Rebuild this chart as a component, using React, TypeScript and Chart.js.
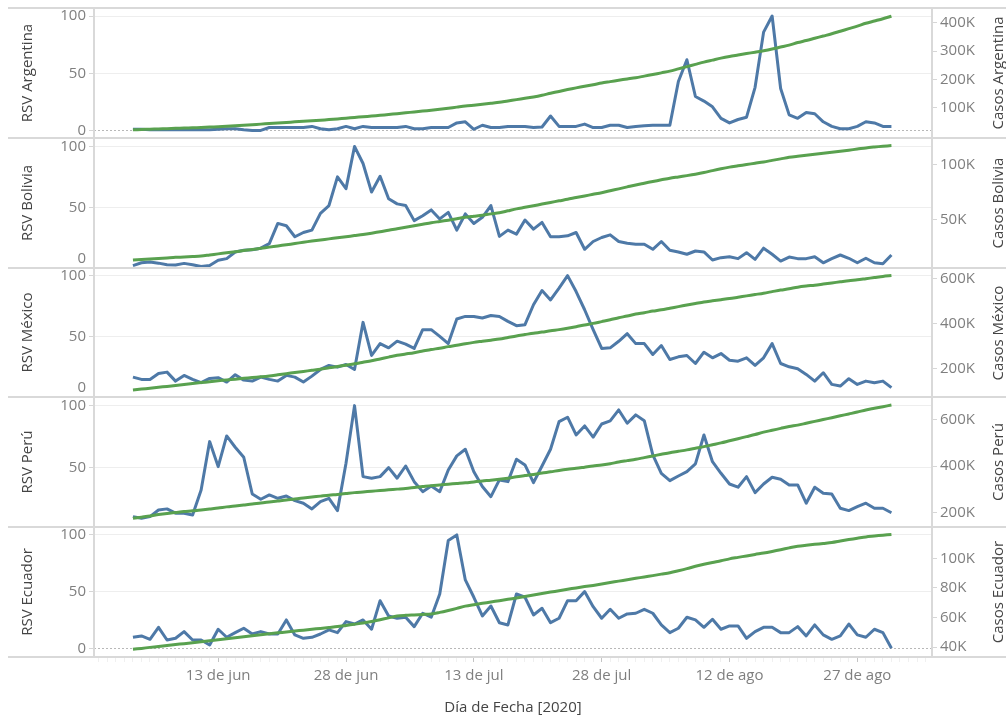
import React, { useEffect, useRef } from 'react';
import { Chart, registerables } from 'chart.js';

Chart.register(...registerables);

// Day offsets counted from 1 June 2020 (3 Jun .. 31 Aug 2020)
const days = Array.from({ length: 90 }, (_, i) => i + 2);

const xTickDays = [12, 27, 42, 57, 72, 87];
const xTickLabels = ['13 de jun', '28 de jun', '13 de jul', '28 de jul', '12 de ago', '27 de ago'];
const xMinorDays = Array.from({ length: 98 }, (_, i) => i - 2);
const rsvTicks = [0, 50, 100];

const countries = ['Argentina', 'Bolivia', 'México', 'Perú', 'Ecuador'];

const rsvArgentina = [
  1.5, 1.5, 1, 1, 1, 1, 1, 1, 1, 1,
  1.5, 2, 2, 1, 0.5, 0.5, 3, 3, 3, 3,
  3, 4, 2, 1, 2, 4, 2, 4, 3, 3,
  3, 3, 4, 2, 2, 3, 3, 3, 7, 8,
  1.5, 5, 3, 3, 4, 4, 4, 3, 3.5, 13,
  4, 4, 4, 6, 3, 3, 5, 5, 3, 4,
  4.5, 5, 5, 5, 43, 62, 30, 26, 21, 11,
  7, 10, 12, 38, 86, 100, 37, 14, 11, 16,
  15, 8, 4, 2, 2, 4, 8, 7, 4, 4,
];
const casosArgentina = [
  22, 23, 24, 25, 26, 27, 28, 29, 30, 31.5,
  33, 34.5, 36, 38, 40, 42, 44, 46, 48, 50,
  52, 54, 56, 58, 60.5, 63, 65.5, 68, 70.5, 73,
  76, 79, 82, 85, 88, 91, 94.5, 98, 102, 106,
  109, 112, 115.5, 119, 124, 128.5, 133, 138, 144, 151,
  157.5, 164, 170, 175.5, 181, 187, 192, 197, 201.5, 206,
  211.5, 217, 223, 229, 237, 245, 253, 261, 268, 275,
  281, 286, 291, 296, 301, 307, 314, 321, 330, 337,
  345, 353, 361, 370, 379, 388, 398, 406, 414, 423,
];

const rsvBolivia = [
  2, 4.3, 4.9, 4, 2.7, 2.5, 3.8, 2.7, 1.3, 2,
  6.3, 7.7, 13.2, 14.6, 15.1, 16.3, 20, 36.7, 34.8, 25.7,
  29.2, 31.2, 45, 51.4, 75, 65.3, 100, 86, 62.5, 75.5,
  57, 52.8, 51.4, 39, 43, 47.8, 40.4, 45.8, 31.2, 44.5,
  36.7, 41.7, 51.4, 26, 31.2, 27.9, 39.5, 32, 37.5, 25.7,
  25.7, 26.5, 29.2, 15.4, 21.8, 25.1, 27.3, 21.8, 20.4, 19.6,
  19.6, 15.4, 21.8, 14.6, 13.2, 11.3, 14, 13.2, 6.6, 8.5,
  9.3, 7.7, 12.6, 7.1, 16.3, 11.3, 5.7, 9, 7.7, 7.7,
  9.3, 4.3, 7.7, 10.7, 8, 4.3, 8, 4.3, 3.5, 10.7,
];
const casosBolivia = [
  12.5, 13, 13.5, 14, 14.5, 15, 15.3, 15.7, 16.2, 17.2,
  18.2, 19.2, 20.2, 21.2, 22.2, 23.3, 24.4, 25.5, 26.6, 27.7,
  28.9, 30, 31, 32, 33, 34, 35, 36, 37.2, 38.5,
  40, 41.3, 42.6, 44, 45.4, 46.8, 48, 49.2, 50.5, 51.8,
  52.8, 53.8, 55, 56, 57.8, 59.6, 61, 62.5, 64, 65.5,
  67, 68.4, 70, 71.5, 73, 74.5, 76.3, 78, 79.8, 81.6,
  83.2, 84.8, 86.3, 87.8, 89, 90.2, 91.5, 93, 94.8, 96.5,
  98, 99.2, 100.4, 101.6, 102.8, 104.2, 105.6, 107, 108, 108.9,
  109.8, 110.7, 111.6, 112.6, 113.6, 114.6, 115.7, 116.5, 117.2, 117.8,
];

const rsvMexico = [
  16.4, 14.5, 14.5, 19.4, 20.5, 13.1, 17.8, 14.5, 11.8, 15.3,
  15.9, 12.3, 18.4, 13.9, 13.1, 16.4, 14.5, 13.1, 17.8, 16.4,
  12.3, 17.2, 22.7, 26, 24.6, 26.8, 22.7, 61.5, 34.2, 44,
  40.5, 46, 43.5, 40, 55.5, 55.5, 50, 44, 64.3, 66.4,
  66.4, 65.1, 67.2, 66.4, 62.3, 58.8, 59.6, 76, 87.7, 80,
  89.7, 100, 86.9, 71.9, 55.5, 40, 40.5, 45.9, 52.2, 44,
  44, 35, 42.4, 30.9, 33.1, 34.2, 27.6, 36.9, 32.3, 35.8,
  30.3, 29.5, 32.3, 26, 32.3, 44, 27.6, 24.9, 23.3, 18.6,
  13.1, 20, 10.4, 9, 15.1, 10.4, 13.1, 11.8, 13.1, 7.7,
];
const casosMexico = [
  103, 107, 111, 115, 119, 123, 127.5, 132, 136, 140,
  144, 148, 151.5, 155, 158.5, 162, 166, 171, 176, 181,
  186, 191, 196, 202, 208, 214, 220, 227, 234, 242,
  250, 258, 264, 270, 277, 284, 290, 297, 303, 310,
  316, 321, 326, 331, 338, 345, 351, 357, 362, 368,
  373, 379, 386, 394, 401, 409, 417, 426, 434, 443,
  449, 456, 462, 469, 476, 483, 490, 497, 502, 507,
  512, 518, 524, 530, 536, 543, 550, 556, 563, 568,
  572, 577, 582, 587, 592, 596, 601, 606, 611, 615,
];

const rsvPeru = [
  9.9, 8.6, 9.9, 15.3, 16.2, 12.7, 12.7, 11.3, 31.6, 70.8,
  50.5, 75.4, 66.2, 58.1, 28.3, 24, 27.5, 24.8, 26.7, 22.9,
  20.8, 16.2, 22.1, 24.8, 14.8, 53.2, 100, 42.4, 41.1, 42.4,
  49.7, 41.1, 51, 38.3, 30.2, 34.8, 30.2, 47.8, 59.2, 64.6,
  46.4, 34.3, 26.1, 39.7, 38.3, 56.5, 51.9, 37.5, 51, 64.6,
  87, 90.6, 76.2, 83.5, 74.4, 85.1, 87.6, 96.5, 85.7, 92.5,
  87.8, 60, 45.1, 39.1, 42.9, 46.4, 52.7, 76.2, 54.5, 45.1,
  36.4, 33.8, 42.4, 29.4, 36.4, 41.9, 40.3, 35.6, 35.6, 20.8,
  33.8, 28.9, 28.3, 16.7, 14.8, 18, 20.8, 16.7, 16.7, 13.1,
];
const casosPeru = [
  176, 181, 186, 192, 197, 201, 205, 208, 212, 216,
  220, 225, 229, 233, 237, 242, 246, 250, 254, 259,
  263, 267, 271, 275, 278, 282, 286, 289, 292, 295,
  298, 301, 304, 308, 312, 316, 319, 322, 325, 328,
  332, 336, 339, 343, 348, 354, 359, 364, 370, 375,
  381, 386, 390, 395, 400, 404, 410, 417, 423, 429,
  436, 443, 450, 457, 463, 469, 476, 483, 491, 499,
  508, 517, 526, 535, 545, 553, 561, 569, 575, 583,
  591, 599, 607, 615, 623, 631, 640, 647, 654, 661,
];

const rsvEcuador = [
  9.7, 10.9, 7.9, 18.5, 7.3, 8.8, 14.7, 7.3, 7.3, 2.9,
  16.8, 9.7, 13.8, 17.7, 12.6, 14.7, 12.6, 12.6, 25, 11.8,
  8.8, 9.7, 12.6, 16.2, 13.8, 23.5, 21.4, 25, 16.8, 42,
  28.5, 26.5, 27.4, 19.1, 30.9, 27.4, 47.9, 95, 100, 60.3,
  45, 28.5, 37.3, 22.5, 20.6, 47.9, 45, 29.4, 35.3, 22.6,
  26.5, 42, 42, 50, 36.7, 26.5, 34.4, 26.5, 30.3, 30.9,
  34.4, 30.9, 20.6, 13.8, 17.7, 27.4, 25, 18.5, 25.6, 16.8,
  19.7, 19.7, 8.8, 14.7, 18.5, 18.5, 13.8, 13.8, 19.1, 10.9,
  20.6, 11.8, 7.9, 10.9, 21.4, 11.8, 9.7, 16.8, 13.8, 0,
];
const casosEcuador = [
  38.6, 39.2, 39.9, 40.5, 41.2, 41.8, 42.4, 43, 43.7, 44.4,
  45, 45.7, 46.4, 47.1, 47.8, 48.4, 49.1, 49.7, 50.3, 50.9,
  51.5, 52.1, 52.7, 53.3, 53.9, 54.7, 55.5, 56.3, 57.3, 58.5,
  59.8, 61, 61.5, 61.8, 62.1, 62.4, 63.5, 64.8, 66.2, 67.7,
  68.7, 69.6, 70.5, 71.4, 72.3, 73.2, 74.2, 75.2, 76.2, 77.2,
  78.1, 79.1, 80, 80.9, 81.7, 82.6, 83.6, 84.6, 85.5, 86.5,
  87.4, 88.3, 89.3, 90.3, 91.6, 93, 94.6, 96, 97.2, 98.3,
  99.6, 100.6, 101.6, 102.6, 103.5, 104.6, 105.8, 107, 108.1, 108.8,
  109.4, 110, 110.6, 111.6, 112.6, 113.5, 114.4, 115, 115.6, 116.1,
];

// right-axis tick values, in thousands of cases
const casosTicksArgentina = [100, 200, 300, 400];
const casosTicksBolivia = [50, 100];
const casosTicksMexico = [200, 400, 600];
const casosTicksPeru = [200, 400, 600];
const casosTicksEcuador = [40, 60, 80, 100];

const rsvSeries = [rsvArgentina, rsvBolivia, rsvMexico, rsvPeru, rsvEcuador];
const casosSeries = [casosArgentina, casosBolivia, casosMexico, casosPeru, casosEcuador];
const casosTicks = [casosTicksArgentina, casosTicksBolivia, casosTicksMexico, casosTicksPeru, casosTicksEcuador];

// layout (not data)
const EDGES = [8, 138, 268, 397, 527, 657];
const RSV_RANGE = [[-6.1, 107], [0, 107], [0, 106.3], [1.5, 107], [-7.7, 107]];
const CASOS_RANGE = [[-7, 452], [5.2, 124.8], [71.6, 648.8], [138.8, 695.5], [33.4, 121.1]];
const LIFT_ZERO = [false, true, true, false, false];
const X_MIN = -2.57;
const X_MAX = 95.76;

const FONT = '"Open Sans", "DejaVu Sans", sans-serif';
const BLUE = '#4e79a7';
const GREEN = '#59a14f';
const TICK_COLOR = '#7f7f7f';
const TITLE_COLOR = '#444444';
const GRID_COLOR = '#eeeeee';
const ZERO_COLOR = '#b8b8b8';
const TICKMARK_COLOR = '#d6d6d6';
const FRAME = '#d9d9d9';

function buildConfig(i: number): any {
  const isLast = i === countries.length - 1;
  const name = countries[i];
  const font = { family: FONT, size: 15 };
  const rsvMin = RSV_RANGE[i][0];
  return {
    type: 'line',
    data: {
      datasets: [
        {
          label: 'Casos ' + name,
          data: days.map((d, k) => ({ x: d, y: casosSeries[i][k] })),
          yAxisID: 'y2',
          borderColor: GREEN,
          backgroundColor: GREEN,
          borderWidth: 3,
          pointRadius: 0,
          tension: 0.3,
          order: 0,
        },
        {
          label: 'RSV ' + name,
          data: days.map((d, k) => ({ x: d, y: rsvSeries[i][k] })),
          yAxisID: 'y',
          borderColor: BLUE,
          backgroundColor: BLUE,
          borderWidth: 3,
          pointRadius: 0,
          tension: 0,
          borderJoinStyle: 'round',
          order: 1,
        },
      ],
    },
    options: {
      animation: false,
      responsive: true,
      maintainAspectRatio: false,
      events: [],
      layout: { padding: 0 },
      plugins: { legend: { display: false }, tooltip: { enabled: false } },
      scales: {
        x: {
          type: 'linear',
          min: X_MIN,
          max: X_MAX,
          display: isLast,
          afterBuildTicks: (s: any) => {
            s.ticks = xMinorDays.map((v) => ({ value: v }));
          },
          afterFit: (s: any) => {
            s.height = isLast ? 60 : 0;
            s.paddingLeft = 0;
            s.paddingRight = 0;
          },
          grid: {
            drawOnChartArea: false,
            drawTicks: true,
            tickLength: 5,
            tickColor: (c: any) => (c.tick && xTickDays.includes(c.tick.value) ? '#c4c4c4' : '#f0f0f0'),
          },
          border: { display: false },
          ticks: {
            autoSkip: false,
            maxRotation: 0,
            minRotation: 0,
            padding: 5,
            color: TICK_COLOR,
            font,
            callback: (v: number) => {
              const j = xTickDays.indexOf(v);
              return j >= 0 ? xTickLabels[j] : '';
            },
          },
          title: {
            display: true,
            text: 'Día de Fecha [2020]',
            color: TITLE_COLOR,
            font,
            padding: { top: 0, bottom: 0 },
          },
        },
        y: {
          type: 'linear',
          position: 'left',
          min: RSV_RANGE[i][0],
          max: RSV_RANGE[i][1],
          afterBuildTicks: (s: any) => {
            s.ticks = rsvTicks.filter((v) => v >= s.min && v <= s.max).map((v) => ({ value: v }));
          },
          afterFit: (s: any) => {
            s.width = 94;
            s.paddingTop = 0;
            s.paddingBottom = 0;
          },
          grid: {
            color: (c: any) => {
              if (c.tick && c.tick.value === 0) return rsvMin < 0 ? ZERO_COLOR : 'rgba(0,0,0,0)';
              return GRID_COLOR;
            },
            drawTicks: true,
            tickLength: 5,
            tickColor: TICKMARK_COLOR,
          },
          border: {
            display: false,
            dash: (c: any) => (c.tick && c.tick.value === 0 ? [2, 2] : []),
          },
          ticks: {
            padding: 3,
            color: TICK_COLOR,
            font,
            callback: (v: number) => (v === 0 && LIFT_ZERO[i] ? ['0', ''] : String(v)),
          },
          title: {
            display: true,
            text: 'RSV ' + name,
            color: TITLE_COLOR,
            font,
            padding: { top: 19, bottom: 0 },
          },
        },
        y2: {
          type: 'linear',
          position: 'right',
          min: CASOS_RANGE[i][0],
          max: CASOS_RANGE[i][1],
          afterBuildTicks: (s: any) => {
            s.ticks = casosTicks[i].map((v) => ({ value: v }));
          },
          afterFit: (s: any) => {
            s.width = 74;
            s.paddingTop = 0;
            s.paddingBottom = 0;
          },
          grid: {
            drawOnChartArea: false,
            drawTicks: true,
            tickLength: 5,
            tickColor: TICKMARK_COLOR,
          },
          border: { display: false },
          ticks: {
            padding: 3,
            color: TICK_COLOR,
            font,
            callback: (v: number) => v + 'K',
          },
          title: { display: false },
        },
      },
    },
  };
}

export default function App() {
  const refs = useRef<(HTMLCanvasElement | null)[]>([]);

  useEffect(() => {
    const charts = countries.map((_, i) => new Chart(refs.current[i] as HTMLCanvasElement, buildConfig(i)));
    return () => charts.forEach((c) => c.destroy());
  }, []);

  return (
    <div
      style={{
        position: 'absolute',
        left: 0,
        top: 0,
        width: 1006,
        height: 717,
        background: '#ffffff',
        overflow: 'hidden',
        fontFamily: FONT,
      }}
    >
      {countries.map((c, i) => {
        const top = EDGES[i];
        const bottom = i === countries.length - 1 ? 717 : EDGES[i + 1];
        return (
          <div key={c} style={{ position: 'absolute', left: 0, top, width: 1006, height: bottom - top }}>
            <canvas ref={(el) => { refs.current[i] = el; }} />
          </div>
        );
      })}
      {countries.map((c, i) => (
        <div
          key={'t' + c}
          style={{
            position: 'absolute',
            left: 997,
            top: (EDGES[i] + EDGES[i + 1]) / 2,
            transform: 'translate(-50%, -50%) rotate(-90deg)',
            whiteSpace: 'nowrap',
            fontSize: 15,
            lineHeight: '18px',
            color: TITLE_COLOR,
            fontFamily: FONT,
          }}
        >
          {'Casos ' + c}
        </div>
      ))}
      {EDGES.map((y) => (
        <div key={'h' + y} style={{ position: 'absolute', left: 8, top: y - 1, width: 998, height: 2, background: FRAME }} />
      ))}
      <div style={{ position: 'absolute', left: 93, top: 7, width: 2, height: 651, background: FRAME }} />
      <div style={{ position: 'absolute', left: 931, top: 7, width: 2, height: 651, background: FRAME }} />
    </div>
  );
}
